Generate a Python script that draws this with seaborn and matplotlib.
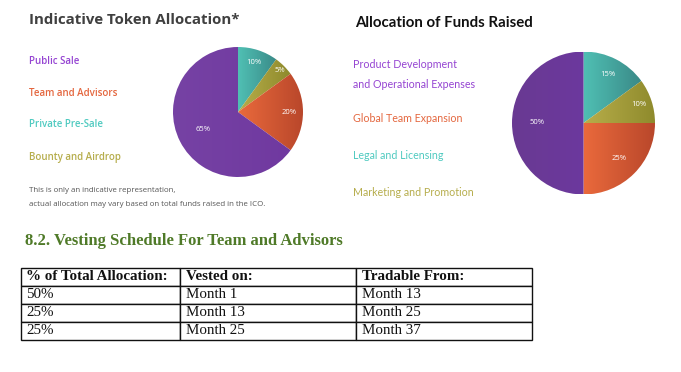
import numpy as np
import matplotlib
matplotlib.use("Agg")
import matplotlib.pyplot as plt
import seaborn as sns
from matplotlib.colors import LinearSegmentedColormap

sns.set_theme(style="white")
plt.rcParams['font.family'] = ['Open Sans', 'DejaVu Sans']

# ---------------- data ----------------
token_labels = ["Private Pre-Sale", "Bounty and Airdrop", "Team and Advisors", "Public Sale"]
token_values = [10, 5, 20, 65]
token_legend = ["Public Sale", "Team and Advisors", "Private Pre-Sale", "Bounty and Airdrop"]

funds_labels = ["Legal and Licensing", "Marketing and Promotion", "Global Team Expansion",
                "Product Development\nand Operational Expenses"]
funds_values = [15, 10, 25, 50]
funds_legend = ["Product Development\nand Operational Expenses", "Global Team Expansion",
                "Legal and Licensing", "Marketing and Promotion"]

table_header = ["% of Total Allocation:", "Vested on:", "Tradable From:"]
vest_share = ["50%", "25%", "25%"]
vested_on = ["Month 1", "Month 13", "Month 25"]
tradable_from = ["Month 13", "Month 25", "Month 37"]

# ---------------- styles ----------------
W, H = 681, 372
fig = plt.figure(figsize=(W / 100, H / 100), dpi=100)
fig.patch.set_facecolor("white")

def fx(x):
    return x / W

def fy(y):
    return 1 - y / H

grad = {
    "teal": ("#50c0b4", "#3a8a88"),
    "olive": ("#b8ae4a", "#8e8a2c"),
    "orange": ("#ea6a3c", "#b9472b"),
    "purple_l": ("#7642a4", "#7039a0"),
    "purple_r": ("#693a92", "#6c389e"),
}
text_col = {"purple": "#9544d2", "orange": "#e4673f", "teal": "#4fcac0", "olive": "#b6ad4c"}

def gradient_pie(ax, values, colors, label_r):
    wedges, _ = ax.pie(values, startangle=90, counterclock=False, radius=1,
                       wedgeprops=dict(linewidth=0))
    for w, c in zip(wedges, colors):
        w.set_facecolor("none")
        bb = w.get_path().get_extents()
        cmap = LinearSegmentedColormap.from_list("g", list(c))
        g = np.linspace(0, 1, 256)[None, :]
        im = ax.imshow(g, extent=(bb.x0, bb.x1, bb.y0, bb.y1), cmap=cmap,
                       aspect="auto", zorder=1)
        im.set_clip_path(w)
    tot = sum(values)
    start = 90.0
    for v, r in zip(values, label_r):
        ang = start - 360 * v / tot / 2
        start -= 360 * v / tot
        a = np.deg2rad(ang)
        ax.text(r * np.cos(a), r * np.sin(a), f"{v}%", ha="center", va="center",
                color="white", fontsize=5.5, zorder=3)
    ax.set_xlim(-1, 1)
    ax.set_ylim(-1, 1)
    ax.set_aspect("equal")
    ax.axis("off")

# left pie
r1 = 65
ax1 = fig.add_axes([fx(238 - r1), fy(112 + r1), fx(2 * r1), 2 * r1 / H])
gradient_pie(ax1, token_values,
             [grad["teal"], grad["olive"], grad["orange"], grad["purple_l"]],
             [0.8, 0.9, 0.78, 0.6])

# right pie
r2 = 71.5
ax2 = fig.add_axes([fx(583.5 - r2), fy(123 + r2), fx(2 * r2), 2 * r2 / H])
gradient_pie(ax2, funds_values,
             [grad["teal"], grad["olive"], grad["orange"], grad["purple_r"]],
             [0.76, 0.82, 0.7, 0.65])

# titles
fig.text(fx(29), fy(20), "Indicative Token Allocation*", fontsize=10.8, fontweight="bold",
         color="#404040", ha="left", va="center", family="Open Sans")
fig.text(fx(355), fy(23), "Allocation of Funds Raised", fontsize=10.8, fontweight="bold",
         color="#111111", ha="left", va="center", family="Lato")

# left legend text
lcols = [text_col["purple"], text_col["orange"], text_col["teal"], text_col["olive"]]
for i, (lab, c) in enumerate(zip(token_legend, lcols)):
    fig.text(fx(29), fy(61 + 32 * i), lab, fontsize=7, fontweight="semibold", color=c,
             ha="left", va="center", family="Open Sans")

fig.text(fx(29), fy(190), "This is only an indicative representation,", fontsize=5.65,
         color="#555555", ha="left", va="center", family="Open Sans")
fig.text(fx(29), fy(205), "actual allocation may vary based on total funds raised in the ICO.",
         fontsize=5.65, color="#555555", ha="left", va="center", family="Open Sans")

# right legend text
ry = [74, 119, 155, 192]
for lab, c, y in zip(funds_legend, lcols, ry):
    fig.text(fx(353), fy(y), lab, fontsize=7.7, color=c, ha="left", va="center",
             family="Lato", linespacing=2.0)

# section heading
fig.text(fx(25), fy(241), "8.2. Vesting Schedule For Team and Advisors", fontsize=12.0,
         fontweight="bold", color="#4f7a28", ha="left", va="center", family="Liberation Serif")

# table
tx0, tx1 = 20.5, 532
ty0, ty1 = 267.5, 339.5
axt = fig.add_axes([fx(tx0), fy(ty1), fx(tx1 - tx0), (ty1 - ty0) / H])
axt.axis("off")
cells = [table_header] + [list(r) for r in zip(vest_share, vested_on, tradable_from)]
col_w = [(180 - tx0) / (tx1 - tx0), (355.5 - 180) / (tx1 - tx0), (tx1 - 355.5) / (tx1 - tx0)]
tbl = axt.table(cellText=cells, colWidths=col_w, loc="center", cellLoc="left",
                bbox=[0, 0, 1, 1])
tbl.auto_set_font_size(False)
for (r, c), cell in tbl.get_celld().items():
    cell.set_edgecolor("#111111")
    cell.set_linewidth(1.0)
    cell.PAD = 0.035
    t = cell.get_text()
    t.set_fontsize(10.8)
    t.set_family("Liberation Serif")
    t.set_color("#111111")
    if r == 0:
        t.set_fontweight("bold")

fig.savefig("out.png", dpi=100, facecolor="white")
